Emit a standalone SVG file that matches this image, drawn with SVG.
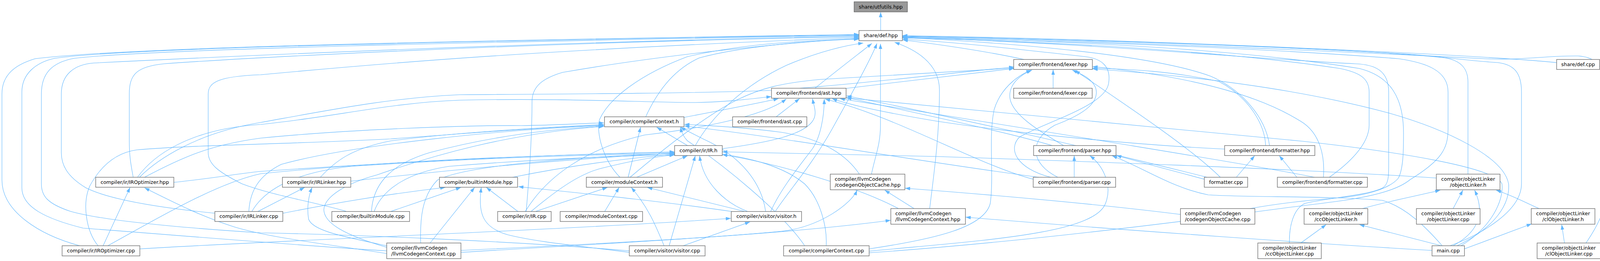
<svg xmlns="http://www.w3.org/2000/svg" width="4368" height="667" viewBox="0 0 4368 667">
<style>
.e{fill:none;stroke:#63b8ff;stroke-width:1.1;marker-end:url(#ah)}
.n rect{fill:#ffffff;stroke:#666666;stroke-width:1.3}
.n text{font-family:"DejaVu Sans","Liberation Sans",sans-serif;font-size:12.75px;fill:#000000;text-anchor:middle}
.n text.l{text-anchor:start}
#n_utfutils rect{fill:#999999}
</style>
<defs>
<marker id="ah" viewBox="0 0 13 9" refX="13" refY="4.5" markerWidth="13" markerHeight="9" markerUnits="userSpaceOnUse" orient="auto"><path d="M0,0 L13,4.5 L0,9 z" fill="#63b8ff"/></marker>
</defs>
<rect x="0" y="0" width="4368" height="667" fill="#ffffff"/>
<g id="edges">
<path class="e" d="M2254.5,78 L2254.5,31"/>
<path class="e" d="M3985,160 C3800,140 2900,100 2310,91"/>
<path class="e" d="M2622,152 C2520,130 2400,113 2311,102"/>
<path class="e" d="M2696,225 L2696,178"/>
<path class="e" d="M2087,225 C2130,190 2195,140 2232,111"/>
<path class="e" d="M2165,226 C2300,210 2480,188 2596,175"/>
<path class="e" d="M1987,298.5 L2047,252"/>
<path class="e" d="M1653,298.5 C1680,240 1720,180 1790,148 C1900,118 2080,103 2199,100"/>
<path class="e" d="M1751,300 C1830,285 1950,262 1993,252"/>
<path class="e" d="M1780,372 C1820,300 1900,220 2013,167 C2100,130 2170,115 2210,110"/>
<path class="e" d="M1760,372 L1681,325"/>
<path class="e" d="M1849,380 C1960,365 2070,345 2085,300 C2090,285 2083,268 2080,252"/>
<path class="e" d="M2723,372 C2660,335 2585,290 2585,245 C2585,215 2610,192 2642,179"/>
<path class="e" d="M2694,372 C2550,330 2300,280 2167,249"/>
<path class="e" d="M3250,372 C3240,300 3180,230 3100,195 C2950,140 2600,110 2310,96"/>
<path class="e" d="M3240,372 C3238,320 3200,250 3120,208 C3000,182 2900,177 2797,174"/>
<path class="e" d="M3135,381 C2900,370 2600,340 2400,310 C2280,290 2180,270 2130,252"/>
<path class="e" d="M341,453 C335,420 331,400 331,360 L331,240 C331,190 350,170 420,163 C600,150 1300,110 2199,94"/>
<path class="e" d="M357,453 C400,410 500,340 667,313 C850,280 1000,250 1177,242 C1500,240 1800,238 1975,231 C2200,215 2450,185 2596,171"/>
<path class="e" d="M352,453 C390,400 480,330 667,318 C850,300 1000,262 1177,256 C1450,250 1650,262 1780,262 C1880,260 1940,250 1975,247"/>
<path class="e" d="M370,453 C470,400 540,370 667,353 C900,330 1200,320 1334,321 C1420,320 1500,315 1546,314"/>
<path class="e" d="M445,466 C550,455 600,445 667,438 C1000,415 1400,395 1727,388"/>
<path class="e" d="M820,453 C860,410 900,380 1000,360 C1150,340 1400,325 1546,318"/>
<path class="e" d="M898,463 C1100,440 1400,410 1727,391"/>
<path class="e" d="M1312,453 C1450,425 1600,405 1727,394"/>
<path class="e" d="M1587,453 C1545,410 1525,340 1535,305 C1560,250 1640,190 1759,145 C1900,112 2050,104 2199,99"/>
<path class="e" d="M1608,453 L1640,325"/>
<path class="e" d="M1630,453 L1760,398"/>
<path class="e" d="M1613,453 C1700,380 1800,300 1887,255 C1950,225 2000,212 2100,203 C2300,190 2480,180 2596,174"/>
<path class="e" d="M2231,445 C2240,400 2254,370 2254,320 L2254,112"/>
<path class="e" d="M2200,445 C2170,400 2110,355 2000,338 C1900,325 1800,320 1752,318"/>
<path class="e" d="M2750,453 L2750,398"/>
<path class="e" d="M2708,453 C2640,420 2630,360 2700,320 C2780,290 2815,260 2805,225 C2795,200 2770,190 2745,179"/>
<path class="e" d="M2690,453 C2600,430 2580,380 2610,350 C2680,310 2830,270 2838,213 C2845,170 2820,150 2780,145 C2600,125 2450,108 2311,100"/>
<path class="e" d="M2645,458 C2500,420 2300,300 2112,253"/>
<path class="e" d="M2660,453 C2400,420 2000,350 1752,322"/>
<path class="e" d="M3165,453 L3212,398"/>
<path class="e" d="M3124,453 C3050,380 2900,280 2752,180"/>
<path class="e" d="M3083,458 C2980,430 2900,410 2858,397"/>
<path class="e" d="M3090,453 C2800,380 2400,290 2167,245"/>
<path class="e" d="M3320,453 L3275,398"/>
<path class="e" d="M3388,453 C3392,400 3380,340 3330,310 C3250,260 3100,200 2797,170"/>
<path class="e" d="M3403,453 C3450,420 3505,370 3505,320 L3505,235 C3505,200 3480,185 3430,175 C3200,140 2800,108 2310,97"/>
<path class="e" d="M3365,453 C3200,420 2700,340 2150,252"/>
<path class="e" d="M3758,445 L3758,210 C3758,175 3740,155 3700,148 C3500,125 2800,100 2310,94"/>
<path class="e" d="M3677,455 C3300,430 2700,410 2400,400 C2100,392 1950,390 1849,388"/>
<path class="e" d="M550,545 C400,530 280,510 220,480 C170,450 157,420 157,390 L157,240 C157,190 190,165 240,161 C500,148 1300,110 2199,92"/>
<path class="e" d="M660,540.5 L780,479"/>
<path class="e" d="M724,545 C850,520 1000,495 1140,479"/>
<path class="e" d="M637,540 C640,490 660,450 720,420 C900,370 1300,330 1546,321"/>
<path class="e" d="M645,540 C680,480 760,440 900,425 C1200,405 1500,395 1727,393"/>
<path class="e" d="M886,540 C800,515 700,500 620,470 C560,440 533,420 533,390 L533,240 C533,210 560,195 667,191 C900,170 1300,130 2199,96"/>
<path class="e" d="M1000,540.5 L1180,479"/>
<path class="e" d="M951,540 C955,470 1000,420 1100,390 C1250,350 1400,330 1546,323"/>
<path class="e" d="M958,540 C980,480 1050,440 1150,425 C1400,405 1600,398 1727,396"/>
<path class="e" d="M1347,540 C1355,450 1362,350 1362,260 C1362,220 1390,200 1440,185 C1700,140 2000,110 2199,98"/>
<path class="e" d="M1360,540 C1420,490 1480,445 1540,430 C1620,410 1680,400 1727,396"/>
<path class="e" d="M1372,540 L1555,479"/>
<path class="e" d="M1345,540 C1400,450 1500,380 1650,345 C1780,330 1950,300 2013,253"/>
<path class="e" d="M1326,540.5 L1245,479"/>
<path class="e" d="M1548,540.5 L1585,479"/>
<path class="e" d="M1985,540 C2010,500 2080,420 2130,330 C2180,240 2230,150 2245,111"/>
<path class="e" d="M1913,540 C1860,520 1800,470 1791,398"/>
<path class="e" d="M1905,540 L1657,479"/>
<path class="e" d="M1960,540 C1950,470 1900,400 1800,355 C1780,345 1760,335 1742,325"/>
<path class="e" d="M1877,541 C1700,515 1500,495 1327,477"/>
<path class="e" d="M1973,540 C2000,480 2050,420 2080,380 C2100,350 2110,300 2110,253"/>
<path class="e" d="M2380,533 C2390,450 2405,350 2405,230 C2405,160 2340,125 2290,108"/>
<path class="e" d="M2340,533 L2265,486"/>
<path class="e" d="M2300,533 C2200,480 2000,420 1849,395"/>
<path class="e" d="M3022,548 C2800,520 2500,495 2317,481"/>
<path class="e" d="M3200,533 C3300,515 3380,510 3430,505 C3500,500 3560,480 3580,455 C3593,430 3593,380 3593,340 C3593,250 3560,195 3480,175 C3200,130 2800,105 2310,95"/>
<path class="e" d="M3488,533 C3550,515 3630,500 3687,486"/>
<path class="e" d="M3720,533 L3745,486"/>
<path class="e" d="M3940,533 C3900,515 3865,497 3830,486"/>
<path class="e" d="M204,628 C100,600 5,540 5,460 L5,240 C5,190 40,165 90,150 C300,125 900,108 2199,88"/>
<path class="e" d="M264,628 L333,479"/>
<path class="e" d="M251,628 C220,590 210,520 230,475 C260,420 300,390 350,383 C500,370 700,370 1000,355 C1200,340 1400,325 1546,320"/>
<path class="e" d="M276,628 C400,560 550,470 667,444 C1000,410 1400,395 1727,390"/>
<path class="e" d="M358,636 C800,610 1400,590 1871,558"/>
<path class="e" d="M990,641 C800,630 500,605 213,583 C120,560 56,530 56,480 L56,235 C56,190 90,160 140,149 C300,125 1000,108 2199,89"/>
<path class="e" d="M1180,640 C1600,620 2000,600 2280,563"/>
<path class="e" d="M1101,621 L1215,479"/>
<path class="e" d="M1077,621 C1075,560 1080,500 1120,460 C1200,420 1500,400 1727,392"/>
<path class="e" d="M990,628 C880,605 800,590 790,560 C785,530 790,500 799,479"/>
<path class="e" d="M990,648 C850,625 700,610 600,580 C520,555 450,520 370,480"/>
<path class="e" d="M990,632 C880,600 830,570 829,536 C830,505 880,470 965,447 C1100,400 1300,340 1546,323"/>
<path class="e" d="M1180,645 C1500,625 1800,610 2001,591 C2100,580 2180,520 2194,486"/>
<path class="e" d="M1749,628 L1920,567"/>
<path class="e" d="M1700,628 C1680,580 1660,530 1616,479"/>
<path class="e" d="M1713,628 L1780,398"/>
<path class="e" d="M1611,641 C1300,615 900,600 667,595 C400,578 250,560 180,540 C120,520 106,500 106,470 L106,240 C106,190 130,160 190,149 C400,125 1200,108 2199,90"/>
<path class="e" d="M1611,645 C1500,630 1380,620 1300,600 C1230,580 1225,540 1232,479"/>
<path class="e" d="M2115,628 C2118,580 2100,510 2060,470 C2000,420 1900,400 1849,395"/>
<path class="e" d="M2225,636 C2400,610 2520,580 2535,520 C2545,450 2530,350 2545,280 C2560,230 2600,195 2640,179"/>
<path class="e" d="M2225,642 C2500,615 2800,600 2830,520 C2850,470 2820,420 2790,398"/>
<path class="e" d="M2225,646 C2600,620 3000,570 3300,530 C3450,512 3560,500 3610,459 C3690,410 3707,380 3707,330 L3707,235 C3707,180 3650,160 3580,150 C3300,128 2800,104 2310,97"/>
<path class="e" d="M2060,628 C2000,540 1850,420 1760,360 C1750,350 1745,340 1742,325"/>
<path class="e" d="M3330,621 L3395,574"/>
<path class="e" d="M3301,621 C3300,580 3310,535 3340,520 C3400,505 3500,500 3540,480 C3555,470 3555,450 3555,420 L3555,235 C3555,180 3520,165 3470,163 C3200,150 2800,110 2310,96"/>
<path class="e" d="M3690,628 L3480,574"/>
<path class="e" d="M3720,628 C3790,590 3800,540 3775,486"/>
<path class="e" d="M3749,636 L3921,572"/>
<path class="e" d="M3712,628 C3790,600 3895,540 3895,470 L3895,235 C3895,185 3875,165 3835,160 C3750,155 3700,145 3600,138 C3200,115 2700,100 2310,92"/>
<path class="e" d="M3730,628 C3830,580 3866,520 3862,470 C3850,400 3700,330 3556,289 C3300,220 3000,190 2797,176"/>
<path class="e" d="M3740,628 C3820,580 3850,510 3845,470 C3830,430 3600,390 3335,361 C3000,330 2600,290 2166,250"/>
<path class="e" d="M3692,628 C3650,580 3600,530 3539,512 C3400,500 3200,505 3093,498 C3000,480 2930,430 2847,398"/>
<path class="e" d="M3666,640 C3400,625 2900,590 2472,555"/>
<path class="e" d="M4005,621 L3998,574"/>
<path class="e" d="M4060,621 C4085,585 4110,540 4110,500 L4110,230 C4110,175 4090,146 4040,143 C3950,142 3900,155 3800,150 C3300,125 2700,100 2310,93"/>
</g>
<g id="n_utfutils" class="n"><rect x="2186.5" y="4.5" width="136.5" height="26"/><text x="2254.75" y="21.5">share/utfutils.hpp</text></g>
<g id="n_def_hpp" class="n"><rect x="2199" y="78" width="111" height="26"/><text x="2254.5" y="95">share/def.hpp</text></g>
<g id="n_lexer_hpp" class="n"><rect x="2595" y="152" width="201.5" height="25.5"/><text x="2695.75" y="168.5">compiler/frontend/lexer.hpp</text></g>
<g id="n_def_cpp" class="n"><rect x="3985" y="152" width="110" height="25.5"/><text x="4040" y="168.5">share/def.cpp</text></g>
<g id="n_ast_hpp" class="n"><rect x="1975" y="225.5" width="191" height="25.5"/><text x="2070.5" y="242">compiler/frontend/ast.hpp</text></g>
<g id="n_lexer_cpp" class="n"><rect x="2595" y="225.5" width="201" height="25.5"/><text x="2695.5" y="242">compiler/frontend/lexer.cpp</text></g>
<g id="n_compilerContext_h" class="n"><rect x="1547.5" y="298.5" width="203.5" height="25.5"/><text x="1649.25" y="315">compiler/compilerContext.h</text></g>
<g id="n_ast_cpp" class="n"><rect x="1875.5" y="298.5" width="190" height="25.5"/><text x="1970.5" y="315">compiler/frontend/ast.cpp</text></g>
<g id="n_IR_h" class="n"><rect x="1727" y="372" width="122" height="25.5"/><text x="1788" y="388.5">compiler/ir/IR.h</text></g>
<g id="n_parser_hpp" class="n"><rect x="2646" y="372" width="211" height="25.5"/><text x="2751.5" y="388.5">compiler/frontend/parser.hpp</text></g>
<g id="n_formatter_hpp" class="n"><rect x="3135" y="372" width="231" height="25.5"/><text x="3250.5" y="388.5">compiler/frontend/formatter.hpp</text></g>
<g id="n_IROptimizer_hpp" class="n"><rect x="245" y="453" width="200" height="25.5"/><text x="345" y="469.5">compiler/ir/IROptimizer.hpp</text></g>
<g id="n_IRLinker_hpp" class="n"><rect x="723" y="453" width="175" height="25.5"/><text x="810.5" y="469.5">compiler/ir/IRLinker.hpp</text></g>
<g id="n_builtinModule_hpp" class="n"><rect x="1125" y="453" width="200" height="25.5"/><text x="1225" y="469.5">compiler/builtinModule.hpp</text></g>
<g id="n_moduleContext_h" class="n"><rect x="1501" y="453" width="195" height="25.5"/><text x="1598.5" y="469.5">compiler/moduleContext.h</text></g>
<g id="n_codegenObjectCache_hpp" class="n"><rect x="2125.5" y="445" width="191" height="40"/><text class="l" x="2137" y="461.5">compiler/llvmCodegen</text><text class="l" x="2137" y="476.5">/codegenObjectCache.hpp</text></g>
<g id="n_parser_cpp" class="n"><rect x="2645" y="453" width="211" height="25.5"/><text x="2750.5" y="469.5">compiler/frontend/parser.cpp</text></g>
<g id="n_formatter_cpp_root" class="n"><rect x="3083" y="453" width="111" height="25.5"/><text x="3138.5" y="469.5">formatter.cpp</text></g>
<g id="n_formatter_cpp" class="n"><rect x="3270" y="453" width="230.5" height="25.5"/><text x="3385.25" y="469.5">compiler/frontend/formatter.cpp</text></g>
<g id="n_objectLinker_h" class="n"><rect x="3677" y="445" width="163" height="40"/><text x="3758.5" y="461.5">compiler/objectLinker</text><text x="3758.5" y="476.5">/objectLinker.h</text></g>
<g id="n_IRLinker_cpp" class="n"><rect x="550" y="540.5" width="174" height="25.5"/><text x="637" y="557">compiler/ir/IRLinker.cpp</text></g>
<g id="n_builtinModule_cpp" class="n"><rect x="849.5" y="540.5" width="199" height="25.5"/><text x="949" y="557">compiler/builtinModule.cpp</text></g>
<g id="n_IR_cpp" class="n"><rect x="1274" y="540.5" width="137" height="25.5"/><text x="1342.5" y="557">compiler/ir/IR.cpp</text></g>
<g id="n_moduleContext_cpp" class="n"><rect x="1434" y="540.5" width="211" height="25.5"/><text x="1539.5" y="557">compiler/moduleContext.cpp</text></g>
<g id="n_visitor_h" class="n"><rect x="1872" y="540.5" width="180" height="25.5"/><text x="1962" y="557">compiler/visitor/visitor.h</text></g>
<g id="n_llvmCodegenContext_hpp" class="n"><rect x="2280.5" y="533" width="191" height="40"/><text class="l" x="2292" y="549.5">compiler/llvmCodegen</text><text class="l" x="2292" y="564.5">/llvmCodegenContext.hpp</text></g>
<g id="n_codegenObjectCache_cpp" class="n"><rect x="3022" y="533" width="190.5" height="40"/><text class="l" x="3033.5" y="549.5">compiler/llvmCodegen</text><text class="l" x="3033.5" y="564.5">/codegenObjectCache.cpp</text></g>
<g id="n_ccObjectLinker_h" class="n"><rect x="3338.5" y="533" width="163" height="40"/><text x="3420" y="549.5">compiler/objectLinker</text><text x="3420" y="564.5">/ccObjectLinker.h</text></g>
<g id="n_objectLinker_cpp" class="n"><rect x="3626" y="533" width="163" height="40"/><text x="3707.5" y="549.5">compiler/objectLinker</text><text x="3707.5" y="564.5">/objectLinker.cpp</text></g>
<g id="n_clObjectLinker_h" class="n"><rect x="3920" y="533" width="163" height="40"/><text x="4001.5" y="549.5">compiler/objectLinker</text><text x="4001.5" y="564.5">/clObjectLinker.h</text></g>
<g id="n_IROptimizer_cpp" class="n"><rect x="159" y="628" width="199" height="26"/><text x="258.5" y="645">compiler/ir/IROptimizer.cpp</text></g>
<g id="n_llvmCodegenContext_cpp" class="n"><rect x="990" y="621" width="190" height="40"/><text class="l" x="1001.5" y="637.5">compiler/llvmCodegen</text><text class="l" x="1001.5" y="652.5">/llvmCodegenContext.cpp</text></g>
<g id="n_visitor_cpp" class="n"><rect x="1611" y="628" width="194" height="26"/><text x="1708" y="645">compiler/visitor/visitor.cpp</text></g>
<g id="n_compilerContext_cpp" class="n"><rect x="2006" y="628" width="219" height="26"/><text x="2115.5" y="645">compiler/compilerContext.cpp</text></g>
<g id="n_ccObjectLinker_cpp" class="n"><rect x="3220" y="621" width="162.5" height="40"/><text x="3301.25" y="637.5">compiler/objectLinker</text><text x="3301.25" y="652.5">/ccObjectLinker.cpp</text></g>
<g id="n_main_cpp" class="n"><rect x="3666" y="628" width="83" height="26"/><text x="3707.5" y="645">main.cpp</text></g>
<g id="n_clObjectLinker_cpp" class="n"><rect x="3935" y="621" width="162.5" height="40"/><text x="4016.25" y="637.5">compiler/objectLinker</text><text x="4016.25" y="652.5">/clObjectLinker.cpp</text></g>
</svg>
